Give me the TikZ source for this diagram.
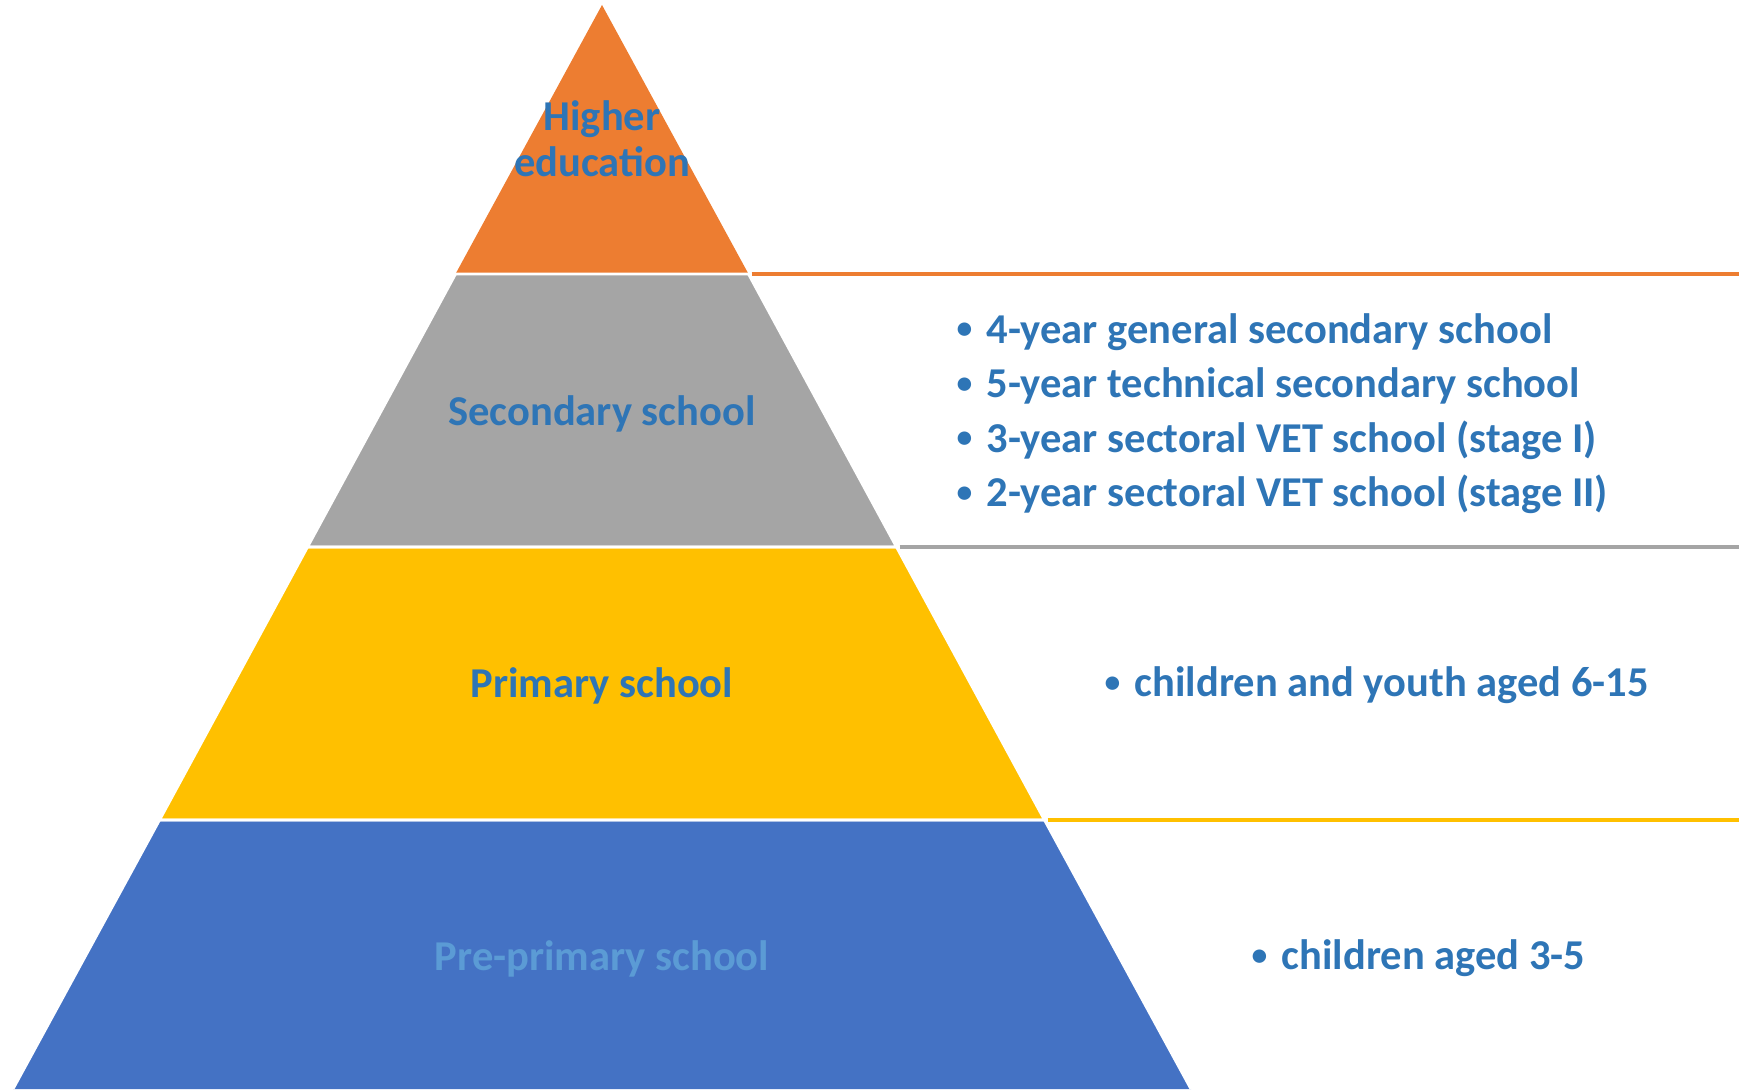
\documentclass[tikz,border=0pt]{standalone}
\usepackage{fontspec}
\setmainfont{Carlito}
\usepackage{tikz}
\usetikzlibrary{positioning,calc}
\definecolor{higher}{HTML}{ED7D31}
\definecolor{second}{HTML}{A5A5A5}
\definecolor{prim}{HTML}{FFC000}
\definecolor{preprim}{HTML}{4472C4}
\definecolor{label}{HTML}{2E75B6}
\definecolor{lightlabel}{HTML}{5B9BD5}
\tikzstyle{livello} = [draw=white, line width=0.8pt, line join=miter]
\tikzstyle{titolo} = [font=\fontsize{12.1}{13}\selectfont\bfseries, text=label, align=center]
\tikzstyle{elenco} = [font=\fontsize{12.1}{15.5}\selectfont\bfseries, text=label, align=left, anchor=west, inner sep=0pt]
\tikzstyle{linea} = [line width=1pt]
\newcommand{\bul}{\makebox[0.26cm][l]{\hspace{-0.04cm}\raisebox{0.2ex}{\fontsize{9}{9}\selectfont•}}}

\begin{document}
\begin{tikzpicture}
\useasboundingbox (0,0) rectangle (17.39,10.89);
% vertici della piramide
\coordinate (apice) at (6.02,10.84);
\coordinate (l1) at (4.555,8.15); \coordinate (r1) at (7.485,8.15);
\coordinate (l2) at (3.075,5.42); \coordinate (r2) at (8.965,5.42);
\coordinate (l3) at (1.595,2.69); \coordinate (r3) at (10.445,2.69);
\coordinate (l4) at (0.13,0); \coordinate (r4) at (11.91,0);
\coordinate (e1) at (17.39,8.15);
\coordinate (e2) at (17.39,5.42);
\coordinate (e3) at (17.39,2.69);
% fasce
\fill[fill=preprim] (l3) -- (r3) -- (r4) -- (l4) -- cycle;
\fill[fill=prim] (l2) -- (r2) -- (r3) -- (l3) -- cycle;
\fill[fill=second] (l1) -- (r1) -- (r2) -- (l2) -- cycle;
\fill[fill=higher] (apice) -- (r1) -- (l1) -- cycle;
\draw[livello] (r1) -- (l1);
\draw[livello] (l1) -- (r1) -- (r2) -- (l2) -- cycle;
\draw[livello] (l2) -- (r2) -- (r3) -- (l3) -- cycle;
\draw[livello] (l3) -- (r3) -- (r4) (l4) -- (l3);
% linee a destra
\draw[linea, higher] ($(r1)+(0.03,0)$) -- (e1);
\draw[linea, second] ($(r2)+(0.03,0)$) -- (e2);
\draw[linea, prim] ($(r3)+(0.03,0)$) -- (e3);
% titoli
\node (he) at (6.02,9.50) [titolo] {Higher\\education};
\node (ss) at (6.02,6.755) [titolo] {Secondary school};
\node (ps) at (6.02,4.035) [titolo] {Primary school};
\node (pp) at (6.02,1.305) [titolo, text=lightlabel] {Pre-primary school};
% elenchi
\node (sec) at (9.60,6.755) [elenco] {\bul 4-year general secondary school\\
\bul 5-year technical secondary school\\
\bul 3-year sectoral VET school (stage I)\\
\bul 2-year sectoral VET school (stage II)};
\node (pri) at (11.08,4.035) [elenco] {\bul children and youth aged 6-15};
\node (pre) at (12.55,1.305) [elenco] {\bul children aged 3-5};
\end{tikzpicture}
\end{document}
